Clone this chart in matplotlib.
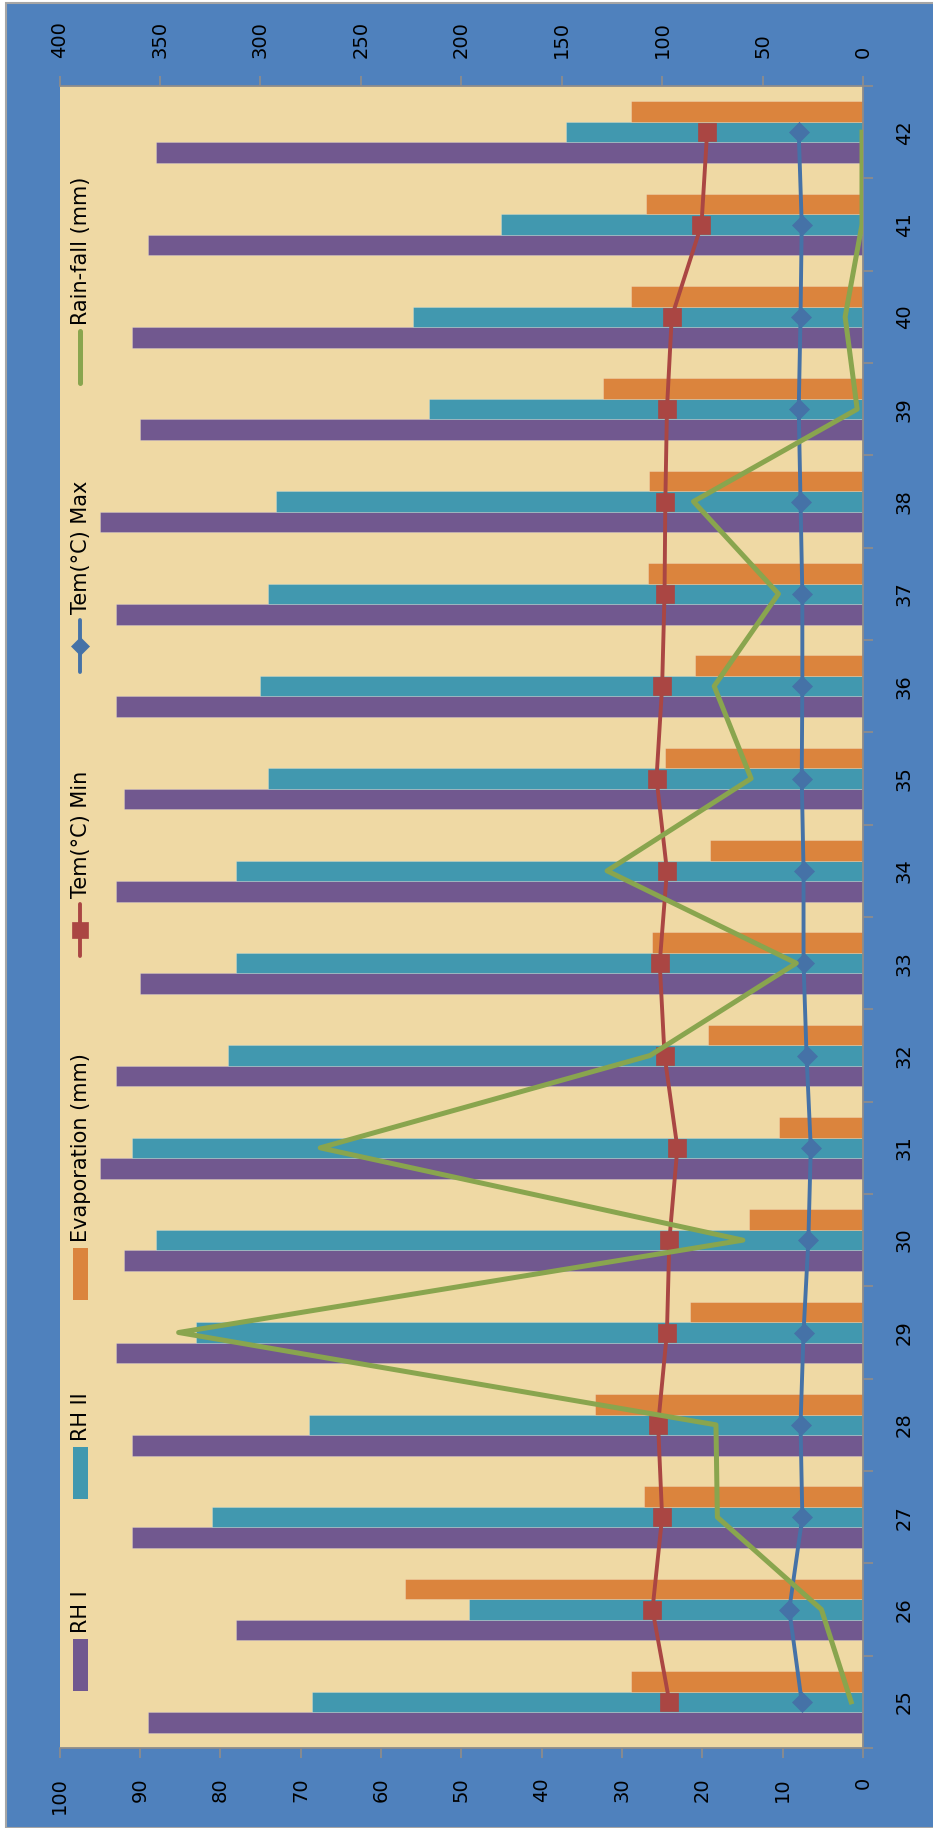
import matplotlib
matplotlib.use('Agg')
import matplotlib.pyplot as plt
import numpy as np
from matplotlib.lines import Line2D
from matplotlib.patches import Rectangle

# ---------------- data ----------------
weeks = [25, 26, 27, 28, 29, 30, 31, 32, 33, 34, 35, 36, 37, 38, 39, 40, 41, 42]
rh1 = [89, 78, 91, 91, 93, 92, 95, 93, 90, 93, 92, 93, 93, 95, 90, 91, 89, 88]
rh2 = [68.6, 49, 81, 69, 83, 88, 91, 79, 78, 78, 74, 75, 74, 73, 54, 56, 45, 37]
evap = [28.9, 57, 27.3, 33.3, 21.5, 14.2, 10.4, 19.3, 26.3, 19.0, 24.6, 20.9,
        26.7, 26.6, 32.4, 28.9, 27.0, 28.9]
tmin = [24.1, 26.2, 25.0, 25.5, 24.4, 24.1, 23.1, 24.7, 25.3, 24.4, 25.7, 25.0,
        24.7, 24.6, 24.4, 23.8, 20.1, 19.4]
tmax = [30.5, 36.7, 30.2, 31.1, 29.6, 27.2, 26.0, 28.1, 29.6, 29.6, 30.5, 30.2,
        30.2, 31.1, 32.0, 31.1, 30.5, 32.0]
rain = [5.9, 20.7, 72.5, 73.2, 340.7, 59.8, 270.2, 106, 33.2, 127.4, 55.7, 74.1,
        42.1, 84.4, 2.9, 8.9, 0.5, 0.5]
labels = ['RH I', 'RH II', 'Evaporation (mm)', 'Tem(°C) Min', 'Tem(°C) Max', 'Rain-fall (mm)']
primary_ticks = list(range(0, 101, 10))
secondary_ticks = list(range(0, 401, 50))

# ---------------- style ----------------
C_RH1, C_RH2, C_EVAP = '#71588F', '#4198AF', '#DB843D'
C_MIN, C_MAX, C_RAIN = '#AA4643', '#4572A7', '#89A54E'
C_BG, C_PLOT, C_AXIS = '#4F81BD', '#EFD9A4', '#8C8C8C'

W, H, DPI = 933, 1828, 100
fig = plt.figure(figsize=(W / DPI, H / DPI), dpi=DPI)
fig.patch.set_facecolor('white')


def fx(x):
    return x / W


def fy(y):
    return 1 - y / H


fig.patches.append(Rectangle((fx(6), 0), 1, fy(3), transform=fig.transFigure,
                             facecolor=C_BG, edgecolor='#A6A6A6', lw=1.5, zorder=-10))

L, R, T, B = 59.5, 863, 86, 1748
ax = fig.add_axes([fx(L), fy(B), (R - L) / W, (B - T) / H])
ax.set_facecolor(C_PLOT)

y = np.array(weeks, dtype=float)
bw = 1 / 4.5
ax.barh(y - bw, rh1, height=bw, color=C_RH1, edgecolor=(1, 1, 1, 0.25), lw=0.6, zorder=2)
ax.barh(y, rh2, height=bw, color=C_RH2, edgecolor=(1, 1, 1, 0.25), lw=0.6, zorder=2)
ax.barh(y + bw, evap, height=bw, color=C_EVAP, edgecolor=(1, 1, 1, 0.25), lw=0.6, zorder=2)
ax.plot(tmin, y, color=C_MIN, lw=2.8, marker='s', ms=13.5, mew=0.5, mec=C_MIN, zorder=3)

ax.set_xlim(100, 0)
ax.set_ylim(24.5, 42.5)
ax.set_xticks(primary_ticks)
ax.set_xticklabels([str(v) for v in primary_ticks], rotation=90)
ax.yaxis.tick_right()
ax.set_yticks(weeks)
ax.set_yticklabels([str(w) for w in weeks], rotation=90, va='center')
ax.set_yticks(np.arange(24.5, 43.0, 1.0), minor=True)
ax.tick_params(axis='y', which='major', length=0, pad=23, labelsize=14)
ax.tick_params(axis='y', which='minor', length=7, width=1.3, color=C_AXIS, direction='out')
ax.tick_params(axis='x', which='major', length=7, width=1.3, color=C_AXIS, pad=14,
               labelsize=14, direction='out')
for s in ['left', 'top']:
    ax.spines[s].set_visible(False)
for s in ['right', 'bottom']:
    ax.spines[s].set_color(C_AXIS)
    ax.spines[s].set_linewidth(1.3)

ax2 = ax.twiny()
ax2.set_xlim(400, 0)
ax2.set_ylim(24.5, 42.5)
ax2.plot(tmax, y, color=C_MAX, lw=2.8, marker='D', ms=10, mew=0.5, mec=C_MAX, zorder=4)
ax2.plot(rain, y, color=C_RAIN, lw=3.6, zorder=5)
ax2.set_xticks(secondary_ticks)
ax2.set_xticklabels([str(v) for v in secondary_ticks], rotation=90)
ax2.tick_params(axis='x', which='major', length=7, width=1.3, color=C_AXIS, pad=13,
                labelsize=14, direction='out')
for s in ['left', 'bottom', 'right']:
    ax2.spines[s].set_visible(False)
ax2.spines['top'].set_color(C_AXIS)
ax2.spines['top'].set_linewidth(1.3)

# ---------------- legend (rotated, drawn manually) ----------------
leg_centers = [1665, 1473, 1274, 930, 646, 357]
kinds = ['bar', 'bar', 'bar', 'line', 'line', 'line']
colors = [C_RH1, C_RH2, C_EVAP, C_MIN, C_MAX, C_RAIN]
markers = [None, None, None, 's', 'D', None]
half = 26
for yc, kind, col, mk, lab in zip(leg_centers, kinds, colors, markers, labels):
    if kind == 'bar':
        fig.patches.append(Rectangle((fx(73), fy(yc + half)), 15 / W, 2 * half / H,
                                     transform=fig.transFigure, facecolor=col,
                                     edgecolor='none', zorder=5))
    else:
        lw = 3.6 if mk is None else 2.8
        fig.add_artist(Line2D([fx(80), fx(80)], [fy(yc + half), fy(yc - half)],
                              transform=fig.transFigure, color=col, lw=lw,
                              solid_capstyle='round', zorder=5))
        if mk is not None:
            ms = 12 if mk == 's' else 9
            fig.add_artist(Line2D([fx(80)], [fy(yc)], transform=fig.transFigure,
                                  marker=mk, ms=ms, color=col, mew=0.5, zorder=6))
    fig.text(fx(81), fy(yc - half - 6), lab, rotation=90, ha='center', va='bottom',
             fontsize=15, color='black', zorder=6)

fig.savefig('out.png', dpi=DPI, facecolor=fig.get_facecolor())
